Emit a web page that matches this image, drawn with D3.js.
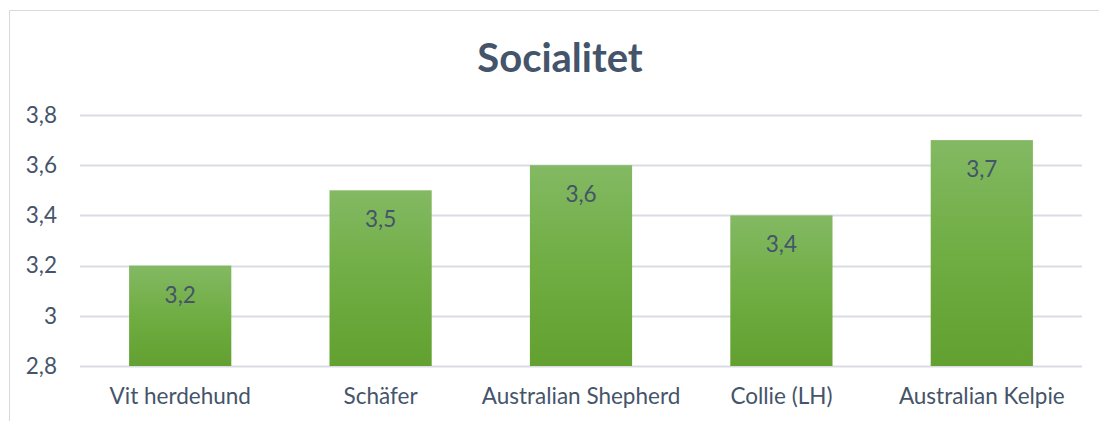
<!DOCTYPE html>
<html>
<head>
<meta charset="utf-8">
<script src="https://cdn.jsdelivr.net/npm/d3@7"></script>
<style>
  html, body { margin: 0; padding: 0; background: #fff; }
  svg { display: block; }
  text { font-family: Lato, "Open Sans", sans-serif; }
</style>
</head>
<body>
<svg id="chart" width="1099" height="421"></svg>
<script>
const categories = ["Vit herdehund", "Schäfer", "Australian Shepherd", "Collie (LH)", "Australian Kelpie"];
const values = [3.2, 3.5, 3.6, 3.4, 3.7];
const yTicks = [2.8, 3.0, 3.2, 3.4, 3.6, 3.8];
const title = "Socialitet";

const W = 1099, H = 421;
const margin = { left: 80, right: 1099 - 1082, top: 115, bottom: 421 - 366 };
const svg = d3.select("#chart");
const fmt = v => String(+v.toFixed(1)).replace(".", ",");
const textColor = "#44546A";
const fs = "22.5px";

// chart border
svg.append("path")
  .attr("d", `M9.5,${H} V10.5 H${W}`)
  .attr("fill", "none").attr("stroke", "#D9D9D9").attr("stroke-width", 1);

const x = d3.scaleBand().domain(categories).range([margin.left, W - margin.right]).paddingInner(0.49).paddingOuter(0.245);
const y = d3.scaleLinear().domain([2.8, 3.8]).range([H - margin.bottom, margin.top]);

const defs = svg.append("defs");
const grad = defs.append("linearGradient").attr("id", "g").attr("x1", 0).attr("y1", 0).attr("x2", 0).attr("y2", 1);
grad.append("stop").attr("offset", "0%").attr("stop-color", "#83B963");
grad.append("stop").attr("offset", "50%").attr("stop-color", "#70AD43");
grad.append("stop").attr("offset", "100%").attr("stop-color", "#62A030");

// gridlines
svg.append("g").selectAll("line").data(yTicks).join("line")
  .attr("x1", margin.left).attr("x2", W - margin.right)
  .attr("y1", d => Math.round(y(d)) + 0.5).attr("y2", d => Math.round(y(d)) + 0.5)
  .attr("stroke", "#D9DDE3").attr("stroke-width", 2);

// y axis labels
const yAxis = d3.axisLeft(y).tickValues(yTicks).tickFormat(fmt).tickSize(0).tickPadding(0);
const ya = svg.append("g").attr("transform", `translate(57,0)`).call(yAxis);
ya.select(".domain").remove();
ya.selectAll("text").attr("fill", textColor).style("font-size", fs).style("font-family", "Lato, sans-serif");

// x axis labels
const xAxis = d3.axisBottom(x).tickSize(0).tickPadding(0);
const xa = svg.append("g").attr("transform", `translate(0,${H - margin.bottom})`).call(xAxis);
xa.select(".domain").remove();
xa.selectAll("text").attr("fill", textColor).attr("y", 38).attr("dy", null)
  .style("font-size", fs).style("font-family", "Lato, sans-serif");

// bars
svg.append("g").selectAll("rect").data(values).join("rect")
  .attr("x", (d, i) => x(categories[i]))
  .attr("width", x.bandwidth())
  .attr("y", d => y(d))
  .attr("height", d => y(2.8) - y(d))
  .attr("fill", "url(#g)");

// data labels
svg.append("g").selectAll("text").data(values).join("text")
  .attr("x", (d, i) => x(categories[i]) + x.bandwidth() / 2)
  .attr("y", d => y(d) + 37)
  .attr("text-anchor", "middle")
  .attr("fill", textColor)
  .style("font-size", fs)
  .text(fmt);

// title
svg.append("text")
  .attr("x", 560).attr("y", 72)
  .attr("text-anchor", "middle")
  .attr("fill", textColor)
  .style("font-size", "40px").style("font-weight", "bold")
  .text(title);
</script>
</body>
</html>
